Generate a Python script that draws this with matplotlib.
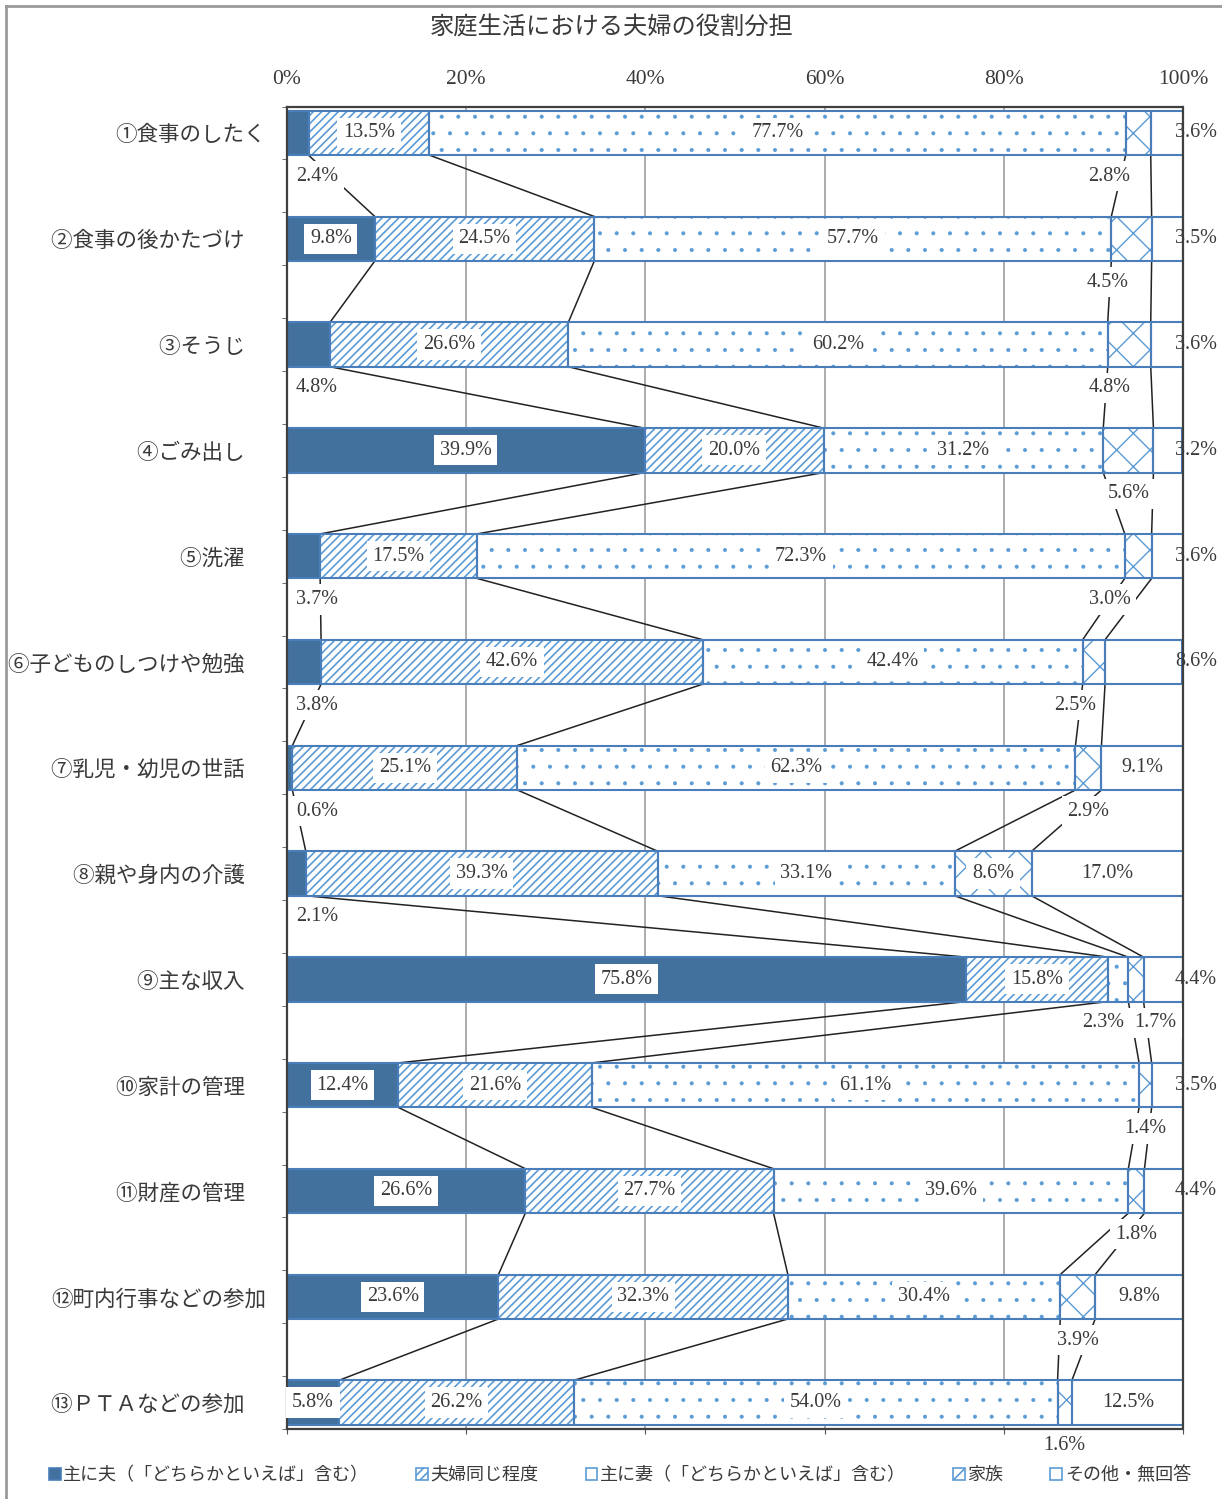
import matplotlib
matplotlib.use('Agg')
import matplotlib.pyplot as plt
from matplotlib.patches import Patch
from matplotlib.lines import Line2D
import numpy as np

plt.rcParams['font.family'] = ['Liberation Serif', 'Noto Sans CJK JP']
plt.rcParams['hatch.linewidth'] = 1.2
JP = ['Noto Sans CJK JP', 'DejaVu Sans']

# 家庭生活における夫婦の役割分担（％）
categories = ['①食事のしたく', '②食事の後かたづけ　', '③そうじ　', '④ごみ出し　', '⑤洗濯　',
              '⑥子どものしつけや勉強　', '⑦乳児・幼児の世話　', '⑧親や身内の介護　', '⑨主な収入　',
              '⑩家計の管理　', '⑪財産の管理　', '⑫町内行事などの参加', '⑬ＰＴＡなどの参加　']
series_names = ['主に夫（「どちらかといえば」含む）', '夫婦同じ程度',
                '主に妻（「どちらかといえば」含む）', '家族', 'その他・無回答']
husband = [2.4, 9.8, 4.8, 39.9, 3.7, 3.8, 0.6, 2.1, 75.8, 12.4, 26.6, 23.6, 5.8]
both = [13.5, 24.5, 26.6, 20.0, 17.5, 42.6, 25.1, 39.3, 15.8, 21.6, 27.7, 32.3, 26.2]
wife = [77.7, 57.7, 60.2, 31.2, 72.3, 42.4, 62.3, 33.1, 2.3, 61.1, 39.6, 30.4, 54.0]
family = [2.8, 4.5, 4.8, 5.6, 3.0, 2.5, 2.9, 8.6, 1.7, 1.4, 1.8, 3.9, 1.6]
other = [3.6, 3.5, 3.6, 3.2, 3.6, 8.6, 9.1, 17.0, 4.4, 3.5, 4.4, 9.8, 12.5]
xticks = [0, 20, 40, 60, 80, 100]

# styles
dark = '#41719C'
hatch_col = '#5B9BD5'
edge_col = '#4A7EBB'
faces = [dark, 'white', 'white', 'white', 'white']
hatches = [None, '////', '.', 'x', None]
hatch_lw = [1.2, 1.2, 0.45, 1.0, 1.2]
inside_min = [5, 5, 5, 8, 9]          # smaller segments get their label outside
below_dx = {(3, 0): -3.2, (3, 1): -2.65, (3, 2): -2.2, (3, 4): -3.2,
            (3, 5): -2.05, (3, 8): 2.15, (2, 8): -1.65}
txt_col = '#3A3A3A'
num_size = 14.5
bar_h = 0.42

W, H = 1222, 1499
fig = plt.figure(figsize=(W / 100, H / 100), dpi=100)
ax = fig.add_axes([287 / W, 1 - 1429 / H, 896 / W, (1429 - 106.5) / H])

vals = np.array([husband, both, wife, family, other])
n = vals.shape[1]
y = np.arange(n)
cum = np.cumsum(vals, axis=0)
starts = cum - vals

for k in range(5):
    with plt.rc_context({'hatch.linewidth': hatch_lw[k]}):
        ax.barh(y, vals[k], left=starts[k], height=bar_h, color=faces[k],
                hatch=hatches[k], edgecolor=hatch_col, linewidth=0, zorder=2)
    ax.barh(y, vals[k], left=starts[k], height=bar_h, fill=False,
            edgecolor=edge_col, linewidth=1.5, zorder=3)

# series lines between neighbouring bars
for k in range(4):
    for i in range(n - 1):
        ax.plot([cum[k, i], cum[k, i + 1]], [i + bar_h / 2, i + 1 - bar_h / 2],
                color='#222222', lw=1.1, zorder=1.5)

box = dict(boxstyle='square,pad=0.28', fc='white', ec='none')
for k in range(5):
    for i in range(n):
        v = vals[k, i]
        c = starts[k, i] + v / 2
        s = f'{v:.1f}%'
        if v >= inside_min[k]:
            ax.text(c, i, s, ha='center', va='center', fontsize=num_size,
                    color=txt_col, bbox=box, zorder=5)
        elif k == 4:
            ax.text(101.45, i, s, ha='center', va='center', fontsize=num_size,
                    color=txt_col, clip_on=False, zorder=5)
        elif k == 0:
            ax.text(1.0, i + 0.41, s, ha='left', va='center', fontsize=num_size,
                    color=txt_col, bbox=box, zorder=5)
        else:
            ax.text(c + below_dx.get((k, i), 0), i + 0.41, s, ha='center',
                    va='center', fontsize=num_size, color=txt_col, bbox=box, zorder=5)

for gx in xticks[1:-1]:
    ax.axvline(gx, color='#A6A6A6', lw=1.3, zorder=1)

ax.set_xticks(xticks)
ax.set_xticklabels([f'{t}%' for t in xticks], fontsize=15.5, color=txt_col)
ax.tick_params(axis='x', bottom=True, top=False, labelbottom=False, labeltop=True,
               length=3.6, pad=9, color='#555555')
ax.set_yticks(y)
ax.set_yticklabels(categories, family=JP, fontsize=15.5, color=txt_col)
ax.set_yticks(np.arange(-0.25, n - 0.7, 0.5), minor=True)
ax.tick_params(axis='y', which='major', length=0, pad=15)
ax.tick_params(axis='y', which='minor', length=3.6, color='#555555')
ax.set_xlim(0, 100)
ax.set_ylim(n - 1 + 0.25, -0.25)

for sp in ax.spines.values():
    sp.set_linestyle((0, (1, 1)))
    sp.set_linewidth(1.6)
    sp.set_color('#404040')
    sp.set_zorder(4)

fig.text(612 / W, 1 - 28 / H, '家庭生活における夫婦の役割分担', ha='center', va='center',
         fontsize=17.5, family=JP, color=txt_col)

handles = [Patch(facecolor=faces[k], edgecolor=hatch_col if k else edge_col,
                 hatch=hatches[k], linewidth=1.2) for k in range(5)]
fig.legend(handles, series_names, loc='center', ncol=5,
           bbox_to_anchor=(620 / W, 1 - 1475 / H), frameon=False,
           prop={'family': JP, 'size': 13}, handlelength=0.65, handleheight=0.65,
           handletextpad=0.15, columnspacing=2.6, labelcolor=txt_col)

# outer frame
fig.add_artist(Line2D([6 / W, 6 / W], [0, 1 - 6 / H], transform=fig.transFigure,
                      color='#9A9A9A', lw=2))
fig.add_artist(Line2D([6 / W, 1], [1 - 6 / H, 1 - 6 / H], transform=fig.transFigure,
                      color='#9A9A9A', lw=2))

fig.savefig('out.png', dpi=100)
